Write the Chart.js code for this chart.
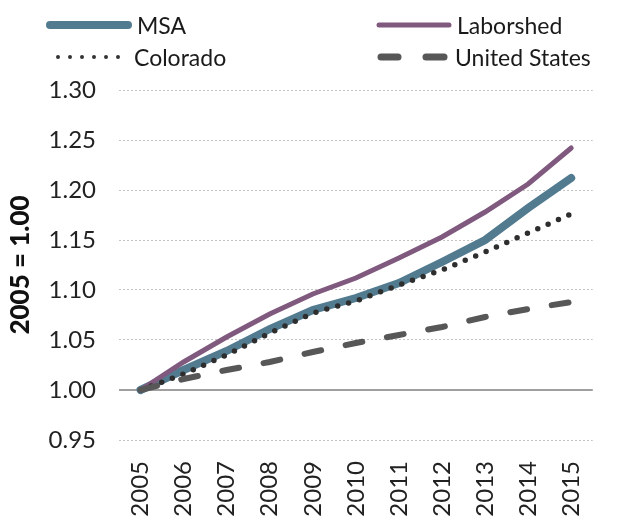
<!DOCTYPE html>
<html>
<head>
<meta charset="utf-8">
<script src="https://cdn.jsdelivr.net/npm/chart.js@4/dist/chart.umd.min.js"></script>
<style>
  body { margin: 0; background: #fff; }
  #wrap { position: relative; width: 621px; height: 516px; }
  #legend { position: absolute; left: 0; top: 0; width: 621px; height: 80px;
    font-family: Lato, sans-serif; font-size: 23px; color: #1a1a1a; }
  .item { position: absolute; display: flex; align-items: center; height: 28px; }
  .item svg { margin-right: 4px; }
</style>
</head>
<body>
<div id="wrap">
  <canvas id="growth-chart" width="621" height="516"></canvas>
  <div id="legend"></div>
</div>
<script>
"use strict";
const years = ['2005', '2006', '2007', '2008', '2009', '2010', '2011', '2012', '2013', '2014', '2015'];
const msa = [1.000, 1.020, 1.039, 1.061, 1.080, 1.092, 1.107, 1.128, 1.150, 1.182, 1.212];
const laborshed = [1.000, 1.028, 1.053, 1.076, 1.096, 1.112, 1.132, 1.153, 1.178, 1.206, 1.242];
const colorado = [1.000, 1.016, 1.035, 1.057, 1.077, 1.089, 1.105, 1.120, 1.138, 1.157, 1.176];
const unitedStates = [1.000, 1.011, 1.020, 1.028, 1.038, 1.047, 1.055, 1.063, 1.073, 1.081, 1.088];
const yTicks = [0.95, 1.00, 1.05, 1.10, 1.15, 1.20, 1.25, 1.30];

// solid line at 1.00
const baseLine = {
  id: 'baseLine',
  beforeDatasetsDraw(chart) {
    const ctx = chart.ctx;
    const y = chart.scales.y.getPixelForValue(1);
    ctx.save();
    ctx.strokeStyle = '#a0a0a0';
    ctx.lineWidth = 2;
    ctx.beginPath();
    ctx.moveTo(chart.chartArea.left, y);
    ctx.lineTo(chart.chartArea.right, y);
    ctx.stroke();
    ctx.restore();
  }
};

const tickFont = { family: 'Lato', size: 24 };

const data = {
  labels: years,
  datasets: [{
    label: 'MSA',
    data: msa,
    borderColor: '#527b90',
    borderWidth: 8,
    borderCapStyle: 'round',
    order: 4
  }, {
    label: 'Laborshed',
    data: laborshed,
    borderColor: '#80597f',
    borderWidth: 5,
    borderCapStyle: 'round',
    order: 3
  }, {
    label: 'Colorado',
    data: colorado,
    borderColor: '#2e2e2e',
    borderWidth: 5.5,
    borderDash: [0, 11.3],
    borderCapStyle: 'round',
    order: 2
  }, {
    label: 'United States',
    data: unitedStates,
    borderColor: '#575757',
    borderWidth: 6,
    borderDash: [17, 25],
    borderCapStyle: 'round',
    order: 1
  }]
};

var ctx = document.getElementById('growth-chart').getContext('2d');
var myChart = new Chart(ctx, {
  type: 'line',
  data: data,
  plugins: [baseLine],
  options: {
    responsive: false,
    animation: false,
    layout: { padding: { top: 90, right: 0, left: 0, bottom: 0 } },
    elements: { point: { radius: 0 }, line: { tension: 0 } },
    scales: {
      x: {
        offset: true,
        grid: { display: false, drawTicks: false },
        border: { display: false },
        ticks: { color: '#222', font: tickFont, minRotation: 90, maxRotation: 90, padding: 21 },
        afterFit: s => { s.height = 76; }
      },
      y: {
        min: 0.95,
        max: 1.30,
        afterBuildTicks: s => { s.ticks = yTicks.map(v => ({ value: v })); },
        grid: { color: '#c4c4c4', lineWidth: 1, drawTicks: false },
        border: { display: false, dash: [2, 2] },
        ticks: { color: '#222', font: tickFont, padding: 23, callback: v => v.toFixed(2) },
        title: { display: true, text: '2005 = 1.00', color: '#111', font: { family: 'Lato', size: 26, weight: '900' }, padding: { top: 5 } },
        afterFit: s => { s.width = 119; }
      }
    },
    plugins: {
      legend: { display: false },
      tooltip: { enabled: false }
    }
  }
});

// html legend, two columns
const legendItems = [
  { text: 'MSA', x: 45, y: 25, w: 88, svg: '<line x1="5" y1="6" x2="83" y2="6" stroke="#527b90" stroke-width="8" stroke-linecap="round"/>' },
  { text: 'Laborshed', x: 376, y: 25, w: 77, svg: '<line x1="3" y1="6" x2="73" y2="6" stroke="#80597f" stroke-width="5" stroke-linecap="round"/>' },
  { text: 'Colorado', x: 55, y: 57, w: 75, svg: '<line x1="3" y1="6" x2="64" y2="6" stroke="#333" stroke-width="4" stroke-dasharray="0 12" stroke-linecap="round"/>' },
  { text: 'United States', x: 376, y: 57, w: 75, svg: '<line x1="5" y1="6" x2="22" y2="6" stroke="#575757" stroke-width="7" stroke-linecap="round"/><line x1="50" y1="6" x2="68" y2="6" stroke="#575757" stroke-width="7" stroke-linecap="round"/>' }
];
const legendDiv = document.getElementById('legend');
legendItems.forEach(it => {
  const d = document.createElement('div');
  d.className = 'item';
  d.style.left = it.x + 'px';
  d.style.top = (it.y - 14) + 'px';
  d.innerHTML = '<svg width="' + it.w + '" height="12">' + it.svg + '</svg><span>' + it.text + '</span>';
  legendDiv.appendChild(d);
});
</script>
</body>
</html>
